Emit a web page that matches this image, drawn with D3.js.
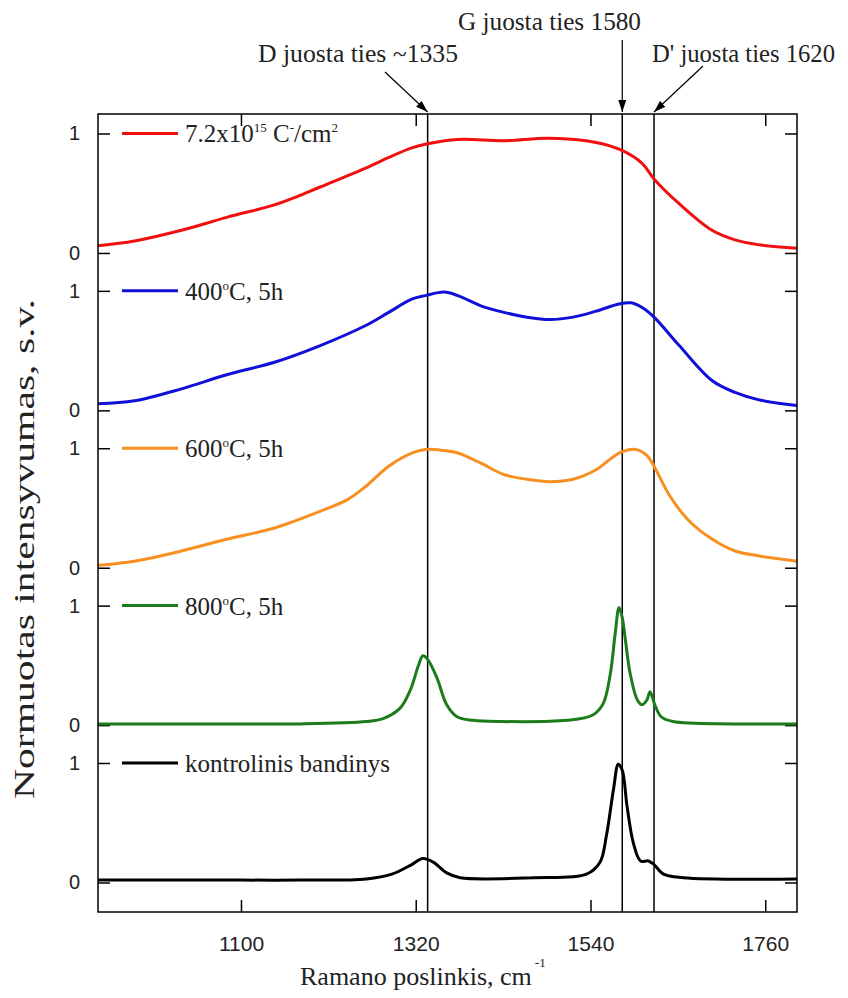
<!DOCTYPE html>
<html>
<head>
<meta charset="utf-8">
<script src="https://cdn.jsdelivr.net/npm/d3@7/dist/d3.min.js"></script>
<style>
  body { margin: 0; background: #fff; }
  svg { display: block; }
</style>
</head>
<body>
<svg id="chart"></svg>
<script>
// Normalised Raman spectra, stacked one above the other

// x axis ticks and the marked bands
const xTicks = [1100, 1320, 1540, 1760];
const bandPositions = [1335, 1580, 1620];
const bandLabels = ["D juosta ties ~1335", "G juosta ties 1580", "D' juosta ties 1620"];

// 7.2x10^15 C-/cm2 (top trace)
const redShift = [920, 966, 1025, 1083, 1141, 1170, 1199, 1257, 1286, 1315, 1332, 1373, 1431, 1489, 1547, 1579, 1605, 1620, 1652, 1693, 1722, 1751, 1800];
const redValues = [0.06, 0.10, 0.19, 0.30, 0.40, 0.47, 0.55, 0.71, 0.80, 0.88, 0.91, 0.95, 0.94, 0.96, 0.925, 0.86, 0.75, 0.62, 0.41, 0.19, 0.11, 0.07, 0.04];

// 400 C, 5h
const blueShift = [920, 966, 1025, 1083, 1141, 1199, 1257, 1286, 1315, 1332, 1356, 1373, 1402, 1431, 1460, 1489, 1518, 1547, 1576, 1591, 1605, 1620, 1652, 1693, 1722, 1751, 1800];
const blueValues = [0.055, 0.08, 0.18, 0.30, 0.40, 0.54, 0.71, 0.82, 0.93, 0.96, 0.99, 0.96, 0.875, 0.82, 0.78, 0.76, 0.78, 0.83, 0.89, 0.90, 0.86, 0.78, 0.54, 0.25, 0.15, 0.09, 0.04];

// 600 C, 5h
const orangeShift = [920, 966, 1025, 1083, 1141, 1199, 1234, 1257, 1286, 1315, 1332, 1356, 1373, 1402, 1431, 1460, 1489, 1518, 1547, 1576, 1597, 1611, 1620, 1640, 1663, 1693, 1722, 1751, 1800];
const orangeValues = [0.02, 0.055, 0.14, 0.24, 0.33, 0.47, 0.57, 0.68, 0.85, 0.96, 0.99, 0.98, 0.96, 0.875, 0.78, 0.74, 0.72, 0.74, 0.82, 0.96, 0.99, 0.94, 0.85, 0.60, 0.40, 0.24, 0.14, 0.10, 0.055];

// 800 C, 5h
const greenShift = [920, 1000, 1100, 1174, 1258, 1279, 1300, 1313, 1323, 1329, 1335, 1347, 1359, 1372, 1392, 1426, 1510, 1543, 1556, 1565, 1571, 1576, 1580, 1584, 1590, 1599, 1605, 1611, 1615, 1621, 1629, 1644, 1720, 1800];
const greenValues = [0.01, 0.01, 0.01, 0.01, 0.03, 0.055, 0.14, 0.29, 0.49, 0.58, 0.55, 0.39, 0.17, 0.07, 0.04, 0.03, 0.04, 0.085, 0.18, 0.43, 0.76, 0.985, 0.90, 0.71, 0.43, 0.21, 0.17, 0.21, 0.28, 0.17, 0.07, 0.03, 0.01, 0.01];

// kontrolinis bandinys (bottom trace)
const blackShift = [920, 1000, 1100, 1174, 1258, 1290, 1315, 1329, 1342, 1359, 1376, 1468, 1535, 1552, 1560, 1569, 1575, 1580, 1586, 1594, 1603, 1613, 1620, 1632, 1657, 1800];
const blackValues = [0.02, 0.02, 0.02, 0.02, 0.03, 0.07, 0.15, 0.20, 0.17, 0.08, 0.04, 0.04, 0.07, 0.17, 0.39, 0.78, 0.99, 0.94, 0.64, 0.33, 0.18, 0.18, 0.15, 0.07, 0.04, 0.03];

const seriesColors = ["#f01010", "#1010d8", "#f79020", "#1c7c1c", "#000000"];
const legendLabels = [
  [["7.2x10", 0], ["15", 1], [" C", 0], ["-", 1], ["/cm", 0], ["2", 1]],
  [["400", 0], ["o", 1], ["C, 5h", 0]],
  [["600", 0], ["o", 1], ["C, 5h", 0]],
  [["800", 0], ["o", 1], ["C, 5h", 0]],
  [["kontrolinis bandinys", 0]]
];

const series = [
  { shift: redShift, values: redValues },
  { shift: blueShift, values: blueValues },
  { shift: orangeShift, values: orangeValues },
  { shift: greenShift, values: greenValues },
  { shift: blackShift, values: blackValues }
];

const width = 848;
const height = 998;
const margin = { top: 114, right: 51, bottom: 86, left: 98 };
const step = 1.317; // vertical offset between traces

const svg = d3.select("#chart").attr("width", width).attr("height", height);

const x = d3.scaleLinear()
  .domain([920, 1800])
  .range([margin.left, width - margin.right]);

const y = d3.scaleLinear()
  .domain([-0.247, 6.431])
  .range([height - margin.bottom, margin.top]);

const offsetOf = i => (series.length - 1 - i) * step;

// y ticks: a 0 and a 1 for every trace
const yTickValues = [];
series.forEach((s, i) => { yTickValues.push(offsetOf(i), offsetOf(i) + 1); });
yTickValues.sort((a, b) => a - b);

const tickFont = "'Liberation Sans', Arial, sans-serif";

svg.append("g")
  .attr("transform", `translate(${margin.left},0)`)
  .call(d3.axisLeft(y).tickValues(yTickValues).tickSize(-12).tickPadding(18)
    .tickFormat((d, i) => (i % 2 ? "1" : "0")))
  .call(g => g.select(".domain").remove())
  .call(g => g.selectAll("text").style("font-family", tickFont).style("font-size", "20px").attr("fill", "#222"));

svg.append("g")
  .attr("transform", `translate(${width - margin.right},0)`)
  .call(d3.axisRight(y).tickValues(yTickValues).tickSize(-12).tickFormat(""))
  .call(g => g.select(".domain").remove());

svg.append("g")
  .attr("transform", `translate(0,${height - margin.bottom})`)
  .call(d3.axisBottom(x).tickValues(xTicks).tickSize(-12).tickPadding(24).tickFormat(d3.format("d")))
  .call(g => g.select(".domain").remove())
  .call(g => g.selectAll("text").style("font-family", tickFont).style("font-size", "21px").attr("fill", "#222"));

svg.append("g")
  .attr("transform", `translate(0,${margin.top})`)
  .call(d3.axisTop(x).tickValues(xTicks).tickSize(-12).tickFormat(""))
  .call(g => g.select(".domain").remove());

svg.selectAll(".tick line").attr("stroke", "#000").attr("stroke-width", 1.5);

// band markers
svg.selectAll(".band")
  .data(bandPositions)
  .enter()
  .append("line")
  .attr("class", "band")
  .attr("x1", d => x(d))
  .attr("x2", d => x(d))
  .attr("y1", margin.top)
  .attr("y2", height - margin.bottom)
  .attr("stroke", "#000")
  .attr("stroke-width", 1.5);

// traces
const line = d3.line().curve(d3.curveCatmullRom.alpha(0.5));
series.forEach((s, i) => {
  const pts = s.shift.map((v, j) => [x(v), y(s.values[j] + offsetOf(i))]);
  svg.append("path")
    .attr("d", line(pts))
    .attr("fill", "none")
    .attr("stroke", seriesColors[i])
    .attr("stroke-width", 3)
    .attr("stroke-linejoin", "round");
});

// frame
svg.append("rect")
  .attr("x", margin.left)
  .attr("y", margin.top)
  .attr("width", width - margin.left - margin.right)
  .attr("height", height - margin.top - margin.bottom)
  .attr("fill", "none")
  .attr("stroke", "#000")
  .attr("stroke-width", 1.5);

const serif = "'Liberation Serif', 'Times New Roman', serif";

// legend, one entry next to the "1" tick of each trace
series.forEach((s, i) => {
  const ly = y(offsetOf(i) + 1);
  svg.append("line")
    .attr("x1", 122).attr("x2", 178)
    .attr("y1", ly).attr("y2", ly)
    .attr("stroke", seriesColors[i])
    .attr("stroke-width", 3);
  const t = svg.append("text")
    .attr("x", 185)
    .attr("y", ly + 9)
    .style("font-family", serif)
    .style("font-size", "25px")
    .attr("fill", "#222");
  let raised = 0;
  legendLabels[i].forEach(([part, sup]) => {
    const target = sup ? -10 : 0;
    t.append("tspan")
      .attr("dy", target - raised)
      .style("font-size", sup ? "13px" : "25px")
      .text(part);
    raised = target;
  });
});

// band annotations with arrows
svg.append("defs").append("marker")
  .attr("id", "arrow")
  .attr("viewBox", "0 0 12 8")
  .attr("refX", 12).attr("refY", 4)
  .attr("markerWidth", 12).attr("markerHeight", 8)
  .attr("markerUnits", "userSpaceOnUse")
  .attr("orient", "auto")
  .append("path")
  .attr("d", "M0,0 L12,4 L0,8 Z")
  .attr("fill", "#000");

const annot = [
  { label: bandLabels[0], tx: 258, ty: 62, len: 200, from: [385, 72], band: bandPositions[0] },
  { label: bandLabels[1], tx: 458, ty: 30, len: 183, from: [x(bandPositions[1]), 40], band: bandPositions[1] },
  { label: bandLabels[2], tx: 652, ty: 62, len: 183, from: [703, 66], band: bandPositions[2] }
];

annot.forEach(a => {
  svg.append("text")
    .attr("x", a.tx)
    .attr("y", a.ty)
    .attr("textLength", a.len)
    .attr("lengthAdjust", "spacingAndGlyphs")
    .style("font-family", serif)
    .style("font-size", "25px")
    .attr("fill", "#222")
    .text(a.label);
  svg.append("line")
    .attr("x1", a.from[0]).attr("y1", a.from[1])
    .attr("x2", x(a.band)).attr("y2", margin.top - 2)
    .attr("stroke", "#000")
    .attr("stroke-width", 1.2)
    .attr("marker-end", "url(#arrow)");
});

// axis titles
const xTitle = svg.append("text")
  .attr("x", 300)
  .attr("y", 985)
  .style("font-family", serif)
  .style("font-size", "26px")
  .attr("fill", "#222");
xTitle.append("tspan").text("Ramano poslinkis, cm");
xTitle.append("tspan")
  .attr("dx", 3)
  .attr("dy", -18)
  .style("font-size", "13px")
  .text("-1");

svg.append("text")
  .attr("transform", `translate(34,${(margin.top + height - margin.bottom) / 2 + 36}) rotate(-90)`)
  .attr("text-anchor", "middle")
  .attr("textLength", 500)
  .attr("lengthAdjust", "spacingAndGlyphs")
  .style("font-family", serif)
  .style("font-size", "29px")
  .attr("fill", "#222")
  .text("Normuotas intensyvumas, s.v.");
</script>
</body>
</html>
